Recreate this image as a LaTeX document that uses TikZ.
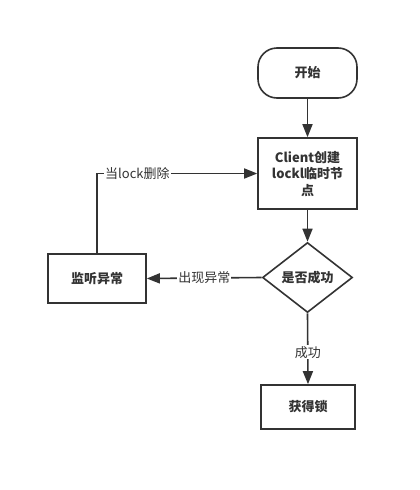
\documentclass[tikz,border=0pt]{standalone}
\usepackage{fontspec}
\setmainfont{Noto Sans CJK SC}
\usepackage{tikz}
\usetikzlibrary{arrows.meta,shapes.geometric}
\definecolor{ink}{HTML}{333333}
\tikzset{
  box/.style = {draw=ink, line width=1.6pt, fill=white, font=\bfseries\fontsize{13}{16.5}\selectfont, text=ink, inner sep=0pt},
  flow/.style = {draw=ink, line width=1.6pt, -{Triangle[length=13pt,width=10pt]}},
  tag/.style = {fill=white, text=ink, font=\fontsize{13}{16}\selectfont, inner sep=1pt}
}

\begin{document}
\begin{tikzpicture}[x=1pt, y=-1pt]
        \useasboundingbox (0,0) rectangle (420,490);
        \node[box, rounded corners=19pt, minimum width=99pt, minimum height=50pt] (start) at (307.5,73) {开始};
        \node[box, minimum width=99pt, minimum height=71pt, align=center] (client) at (307.5,173.5) {Client创建\\lockl临时节\\点};
        \node[box, diamond, aspect=1.28, minimum width=90pt, minimum height=70pt] (check) at (307.5,277.5) {是否成功};
        \node[box, minimum width=98pt, minimum height=49pt] (listen) at (97,278.5) {监听异常};
        \node[box, minimum width=94pt, minimum height=44pt] (lock) at (308,407) {获得锁};
        \draw[flow] (start) -- (client);
        \draw[flow] (client) -- (check);
        \draw[flow] (check.west) -- node[tag] {出现异常} (listen.east);
        \draw[flow] (listen.north) |- node[tag, pos=0.626] {当lock删除} (client.west);
        \draw[flow] (check.south) -- node[tag, pos=0.55] {成功} (lock.north);
    \end{tikzpicture}
\end{document}
